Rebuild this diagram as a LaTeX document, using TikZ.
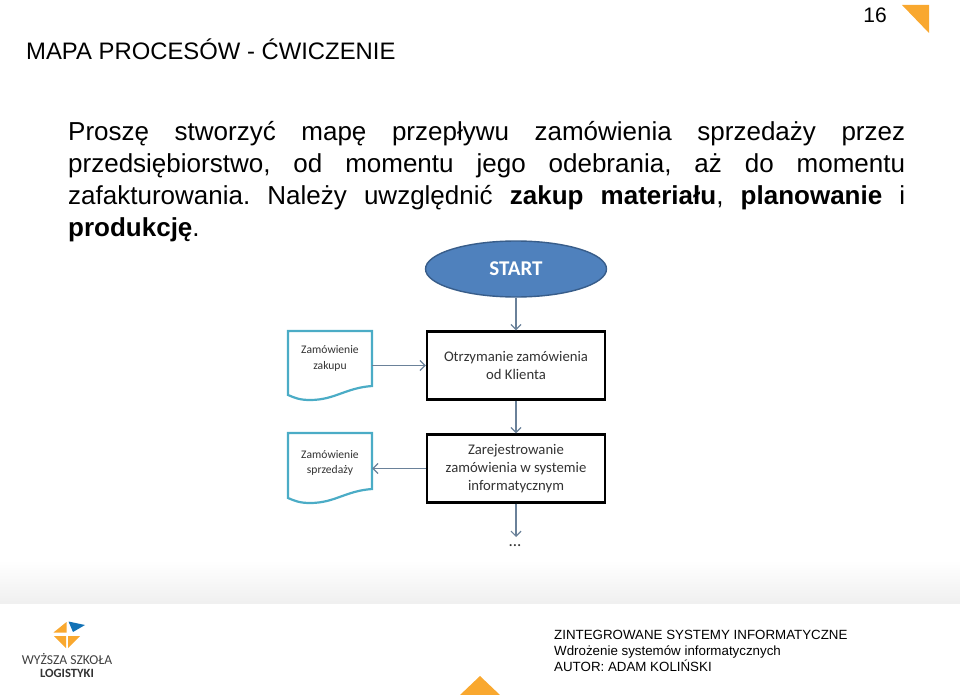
\documentclass[tikz,border=0pt]{standalone}
\usepackage{fontspec}
\setmainfont{Liberation Sans}
\newfontfamily\chartfont{Carlito}
\usetikzlibrary{arrows.meta}
\usetikzlibrary{shapes.geometric}
\definecolor{logoorange}{HTML}{F9A82F}
\definecolor{logoblue}{HTML}{1272B6}
\definecolor{startblue}{HTML}{4F81BD}
\definecolor{startline}{HTML}{385D8A}
\definecolor{docline}{HTML}{4BACC6}
\definecolor{flowline}{HTML}{6A8199}
\tikzset{
    flowbox/.style={draw=black,line width=2.4pt,fill=white,minimum width=178pt,minimum height=68pt,inner sep=0pt,align=center,font=\chartfont\fontsize{14.7}{18.2}\selectfont,text=black!80},
    docbox/.style={minimum width=84pt,minimum height=54pt,inner sep=0pt,align=center,font=\chartfont\fontsize{11.6}{15.5}\selectfont,text=black!80},
    docline/.style={draw=docline,line width=2.2pt,fill=white},
    flow/.style={draw=flowline,line width=1.2pt,-{Straight Barb[length=5pt,width=10pt]}},
    footline/.style={anchor=base west,inner sep=0pt,font=\fontsize{13.33}{16}\selectfont},
}
\begin{document}
\begin{tikzpicture}[x=1pt,y=-1pt]
\useasboundingbox (0,0) rectangle (960,695);
\shade[top color=white,bottom color=black!6] (0,560) rectangle (960,603);
\fill[logoorange] (902,5) -- (929,5) -- (929,33) -- cycle;
\fill[logoorange] (460,695) -- (480,676) -- (500,695) -- cycle;
\node[anchor=center,inner sep=0pt,font=\fontsize{21}{24}\selectfont] (pagenum) at (875,15) {16};
\node[anchor=west,inner sep=0pt,font=\fontsize{23.85}{26}\selectfont] (title) at (26,49.5) {MAPA PROCESÓW - ĆWICZENIE};
\node[anchor=north west,inner sep=0pt,text width=837pt,align=justify,font=\fontsize{26}{32}\selectfont] (task) at (68,121)
    {\frenchspacing Proszę stworzyć mapę przepływu zamówienia sprzedaży przez\linebreak przedsiębiorstwo, od momentu jego odebrania, aż do momentu\linebreak zafakturowania. Należy uwzględnić \textbf{zakup materiału}, \textbf{planowanie} i\linebreak \textbf{produkcję}.};
% flow chart
\node[ellipse,draw=startline,line width=1.4pt,fill=startblue,minimum width=181pt,minimum height=56pt,inner sep=0pt,text=white,font=\chartfont\bfseries\fontsize{21}{24}\selectfont] (start) at (516,269) {START};
\node[flowbox] (receive) at (516,365.5) {Otrzymanie zamówienia\\od Klienta};
\node[flowbox] (register) at (516,468.5) {Zarejestrowanie\\zamówienia w systemie\\informatycznym};
\draw[docline] (288,331) -- (372,331) -- (372,386) .. controls (345,388) and (335,400) .. (310,400) .. controls (300,400) and (295,398) .. (288,395) -- cycle;
\draw[docline] (288,433) -- (372,433) -- (372,489) .. controls (345,491) and (335,503) .. (310,503) .. controls (300,503) and (295,501) .. (288,498) -- cycle;
\node[docbox] (purchase) at (330,358.5) {Zamówienie\\zakupu};
\node[docbox] (sales) at (330,463) {Zamówienie\\sprzedaży};
\coordinate (more) at (516,537);
\node[inner sep=0pt,font=\chartfont\fontsize{17}{17}\selectfont,text=black!80] (dots) at (515,546) {...};
\draw[flow] (start) -- (receive);
\draw[flow] (receive) -- (register);
\draw[flow] (purchase.east |- receive.west) -- (receive.west);
\draw[flow] (register.west) -- (sales.east |- register.west);
\draw[flow] (register) -- (more);
% logo
\fill[logoorange] (53.5,632.5) -- (66.5,622) -- (66.5,632.5) -- cycle;
\fill[logoorange] (54,636) -- (66,636) -- (66,648) -- cycle;
\fill[logoorange] (68,636) -- (80,636) -- (68,648) -- cycle;
\fill[logoblue] (68.5,621.5) -- (85,625) -- (73,632) -- cycle;
\node[inner sep=0pt,font=\chartfont\fontsize{13.6}{14}\selectfont,text=black!75] (school) at (67,658.5) {WYŻSZA SZKOŁA};
\node[inner sep=0pt,font=\chartfont\bfseries\fontsize{12.6}{14}\selectfont,text=black!80] (logistics) at (67,673) {LOGISTYKI};
% footer
\node[footline] (course) at (554,639) {ZINTEGROWANE SYSTEMY INFORMATYCZNE};
\node[footline] (topic) at (554,655) {Wdrożenie systemów informatycznych};
\node[footline] (author) at (554,671) {AUTOR: ADAM KOLIŃSKI};
\end{tikzpicture}
\end{document}
